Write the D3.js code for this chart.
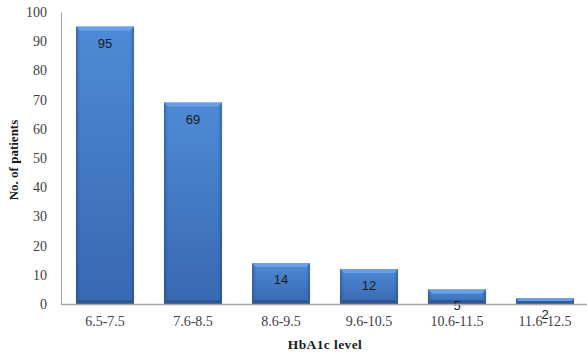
<!DOCTYPE html>
<html>
<head>
<meta charset="utf-8">
<script src="https://cdn.jsdelivr.net/npm/d3@7"></script>
<style>
  html, body { margin: 0; padding: 0; background: #fff; }
  svg { display: block; }
</style>
</head>
<body>
<svg id="chart" width="587" height="357"></svg>
<script>
// HbA1c distribution of patients
const categories = ["6.5-7.5", "7.6-8.5", "8.6-9.5", "9.6-10.5", "10.6-11.5", "11.6-12.5"];
const patients = [95, 69, 14, 12, 5, 2];
const yTicks = [0, 10, 20, 30, 40, 50, 60, 70, 80, 90, 100];

const svg = d3.select("#chart");
const plotLeft = 61, plotRight = 589, plotTop = 12, plotBottom = 304;

const x = d3.scaleBand().domain(categories).range([plotLeft, plotRight]).paddingInner(0.34).paddingOuter(0.17);
const y = d3.scaleLinear().domain([0, 100]).range([plotBottom, plotTop]);

const defs = svg.append("defs");
const vg = defs.append("linearGradient").attr("id", "barFill").attr("x1", 0).attr("y1", 0).attr("x2", 0).attr("y2", 1);
vg.append("stop").attr("offset", "0%").attr("stop-color", "#4f8ad6");
vg.append("stop").attr("offset", "100%").attr("stop-color", "#3868b0");
const hg = defs.append("linearGradient").attr("id", "barEdge").attr("x1", 0).attr("y1", 0).attr("x2", 1).attr("y2", 0);
hg.append("stop").attr("offset", "0%").attr("stop-color", "#1d3f73").attr("stop-opacity", 0.45);
hg.append("stop").attr("offset", "7%").attr("stop-color", "#1d3f73").attr("stop-opacity", 0);
hg.append("stop").attr("offset", "93%").attr("stop-color", "#1d3f73").attr("stop-opacity", 0);
hg.append("stop").attr("offset", "100%").attr("stop-color", "#1d3f73").attr("stop-opacity", 0.45);

// y axis (line and labels only)
const yAxis = svg.append("g").attr("transform", `translate(${plotLeft},0)`)
  .call(d3.axisLeft(y).tickValues(yTicks).tickSize(0).tickPadding(14));
yAxis.select(".domain").attr("stroke", "#a6a6a6").attr("stroke-width", 1);
yAxis.selectAll("text").attr("font-family", "Liberation Serif, serif").attr("font-size", 14).attr("fill", "#404040");

// bars
const bars = svg.append("g").selectAll("g").data(categories).join("g");
bars.each(function(c, i) {
  const g = d3.select(this);
  const x0 = x(c), w = x.bandwidth(), y0 = y(patients[i]), h = y(0) - y(patients[i]);
  const b = Math.min(4, h / 2);
  g.append("rect").attr("x", x0).attr("y", y0).attr("width", w).attr("height", h).attr("fill", "url(#barFill)");
  g.append("rect").attr("x", x0).attr("y", y0).attr("width", w).attr("height", h).attr("fill", "url(#barEdge)");
  // top bevel
  g.append("polygon")
    .attr("points", [[x0, y0], [x0 + w, y0], [x0 + w - b, y0 + b], [x0 + b, y0 + b]].map(p => p.join(",")).join(" "))
    .attr("fill", "#6ea2e4").attr("opacity", 0.9);
  // bottom bevel
  g.append("polygon")
    .attr("points", [[x0, y0 + h], [x0 + w, y0 + h], [x0 + w - b, y0 + h - b], [x0 + b, y0 + h - b]].map(p => p.join(",")).join(" "))
    .attr("fill", "#27508c").attr("opacity", 0.7);
});

// value labels
svg.append("g").selectAll("text").data(categories).join("text")
  .attr("x", c => x(c) + x.bandwidth() / 2)
  .attr("y", (c, i) => y(patients[i]) + 21)
  .attr("text-anchor", "middle")
  .attr("font-family", "Liberation Sans, sans-serif")
  .attr("font-size", 13)
  .attr("fill", "#1a1a1a")
  .text((c, i) => patients[i]);

// x axis
const xAxis = svg.append("g").attr("transform", `translate(0,${plotBottom})`)
  .call(d3.axisBottom(x).tickSize(0).tickPadding(12));
xAxis.select(".domain").attr("d", `M${plotLeft},0.5H587`).attr("stroke", "#a6a6a6").attr("stroke-width", 1.5);
xAxis.selectAll("text").attr("font-family", "Liberation Serif, serif").attr("font-size", 14).attr("fill", "#404040");

// axis titles
svg.append("text")
  .attr("x", (plotLeft + plotRight) / 2).attr("y", 349)
  .attr("text-anchor", "middle")
  .attr("font-family", "Liberation Serif, serif").attr("font-weight", "bold").attr("font-size", 13.5)
  .attr("letter-spacing", 0.4)
  .attr("fill", "#1a1a1a")
  .text("HbA1c level");
svg.append("text")
  .attr("transform", "translate(18,160) rotate(-90)")
  .attr("text-anchor", "middle")
  .attr("font-family", "Liberation Serif, serif").attr("font-weight", "bold").attr("font-size", 13)
  .attr("fill", "#1a1a1a")
  .text("No. of patients");
</script>
</body>
</html>
